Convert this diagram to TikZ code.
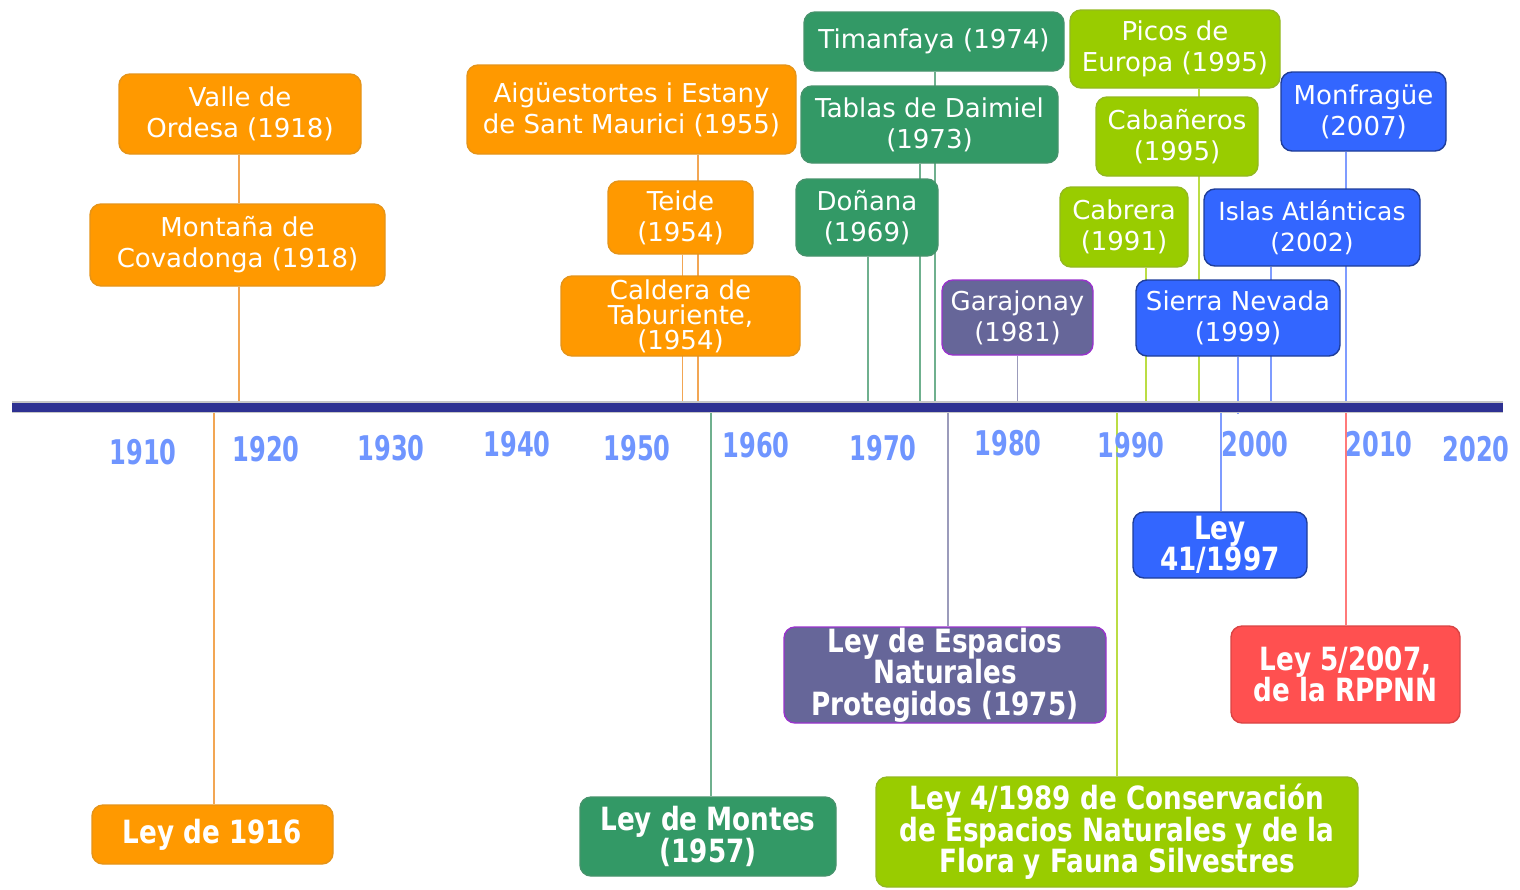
\documentclass[tikz,border=0pt]{standalone}
\usepackage{fontspec}
\setmainfont{DejaVu Sans}
\newfontfamily\lawfont{DejaVu Sans Bold}[FakeStretch=0.82]
\newfontfamily\yearfont{DejaVu Sans Bold}[FakeStretch=0.71]
\usetikzlibrary{calc}
\definecolor{cOr}{HTML}{FF9900}
\definecolor{cGr}{HTML}{339966}
\definecolor{cYg}{HTML}{99CC00}
\definecolor{cBl}{HTML}{3366FF}
\definecolor{cPu}{HTML}{666699}
\definecolor{cPuB}{HTML}{9933CC}
\definecolor{cRd}{HTML}{FF5050}
\definecolor{cNavy}{HTML}{2E3192}
\definecolor{cYear}{HTML}{6F95FF}
\definecolor{lOr}{HTML}{F2A654}
\definecolor{lGr}{HTML}{6FB08E}
\definecolor{lYg}{HTML}{BBDD44}
\definecolor{lBl}{HTML}{7F9CFF}
\definecolor{lPu}{HTML}{9B9BBB}
\definecolor{lRd}{HTML}{FF7A7A}
\pgfdeclarelayer{bg}
\pgfsetlayers{bg,main}
\tikzset{
  box/.style={rounded corners=11pt, line width=1.4pt, text=white, align=center,
    inner sep=0pt, font=\fontsize{26}{31}\selectfont},
  obox/.style={box, fill=cOr, draw=cOr!80!gray},
  gbox/.style={box, fill=cGr, draw=cGr!75!gray},
  ybox/.style={box, fill=cYg, draw=cYg!75!gray},
  bbox/.style={box, fill=cBl, draw=cBl!60!black},
  pbox/.style={box, fill=cPu, draw=cPuB},
  rbox/.style={box, fill=cRd, draw=cRd!85!black},
  law/.style={font=\lawfont\fontsize{32}{31.5}\selectfont},
  yr/.style={text=cYear, font=\yearfont\fontsize{34}{34}\selectfont, inner sep=0pt},
  conn/.style={line width=1.8pt},
}
\begin{document}
\begin{tikzpicture}[x=1pt,y=-1pt]
\useasboundingbox (0,0) rectangle (1520,889);
\coordinate (barL) at (12,407);
\coordinate (barR) at (1503,407);
\coordinate (barT) at (0,402);
\coordinate (barB) at (0,412);
% bar
\draw[line width=12pt, gray!45] (barL) -- (barR);
\draw[line width=9pt, cNavy] (barL) -- (barR);

% upper boxes
\node[obox, minimum width=242pt, minimum height=80pt] (ordesa) at (240,114) {Valle de\\Ordesa (1918)};
\node[obox, minimum width=295pt, minimum height=82pt] (covadonga) at (237.5,245) {Montaña de\\Covadonga (1918)};
\node[obox, minimum width=329pt, minimum height=89pt] (aig) at (631.5,109.5) {Aigüestortes i Estany\\de Sant Maurici (1955)};
\node[obox, minimum width=145pt, minimum height=73pt] (teide) at (680.5,217.5) {Teide\\(1954)};
\node[obox, minimum width=239pt, minimum height=80pt, font=\fontsize{26}{25}\selectfont] (caldera) at (680.5,316) {Caldera de\\Taburiente,\\(1954)};
\node[gbox, minimum width=260pt, minimum height=59pt] (timanfaya) at (934,41.5) {Timanfaya (1974)};
\node[gbox, minimum width=257pt, minimum height=77pt] (tablas) at (929.5,124.5) {Tablas de Daimiel\\(1973)};
\node[gbox, minimum width=142pt, minimum height=77pt] (donana) at (867,217.5) {Doñana\\(1969)};
\node[pbox, minimum width=151pt, minimum height=75pt] (garajonay) at (1017.5,317.5) {Garajonay\\(1981)};
\node[ybox, minimum width=210pt, minimum height=78pt] (picos) at (1175,49) {Picos de\\Europa (1995)};
\node[ybox, minimum width=162pt, minimum height=79pt] (cabaneros) at (1177,136.5) {Cabañeros\\(1995)};
\node[ybox, minimum width=128pt, minimum height=80pt] (cabrera) at (1124,227) {Cabrera\\(1991)};
\node[bbox, minimum width=165pt, minimum height=79pt] (monfrague) at (1363.5,111.5) {Monfragüe\\(2007)};
\node[bbox, minimum width=216pt, minimum height=77pt, font=\fontsize{25}{31}\selectfont] (islas) at (1312,227.5) {Islas Atlánticas\\(2002)};
\node[bbox, minimum width=204pt, minimum height=76pt] (sierra) at (1238,318) {Sierra Nevada\\(1999)};

% lower boxes (laws)
\node[obox, law, minimum width=241pt, minimum height=59pt] (ley1916) at (212.5,834.5) {Ley de 1916};
\node[gbox, law, minimum width=256pt, minimum height=79pt] (montes) at (708,836.5) {Ley de Montes\\(1957)};
\node[pbox, law, minimum width=322pt, minimum height=96pt] (lenp) at (945,675) {Ley de Espacios\\Naturales\\Protegidos (1975)};
\node[ybox, law, minimum width=482pt, minimum height=110pt] (ley4) at (1117,832) {Ley 4/1989 de Conservación\\de Espacios Naturales y de la\\Flora y Fauna Silvestres};
\node[bbox, law, minimum width=174pt, minimum height=66pt] (ley41) at (1220,545) {Ley\\41/1997};
\node[rbox, law, minimum width=229pt, minimum height=97pt] (ley5) at (1345.5,674.5) {Ley 5/2007,\\de la RPPNN};

% year labels
\node[yr] (y1910) at (143,452) {1910};
\node[yr] (y1920) at (266,449) {1920};
\node[yr] (y1930) at (391,448) {1930};
\node[yr] (y1940) at (517,444) {1940};
\node[yr] (y1950) at (637,448) {1950};
\node[yr] (y1960) at (756,445) {1960};
\node[yr] (y1970) at (883,448) {1970};
\node[yr] (y1980) at (1008,443) {1980};
\node[yr] (y1990) at (1131,445) {1990};
\node[yr] (y2000) at (1255,444) {2000};
\node[yr] (y2010) at (1379,444) {2010};
\node[yr] (y2020) at (1476,449) {2020};

\begin{pgfonlayer}{bg}
% upper connectors
\draw[conn, lOr] ($(ordesa.south)+(-1,0)$) -- ($(covadonga.north)+(1.5,0)$);
\draw[conn, lOr] ($(covadonga.south)+(1.5,0)$) -- ($(covadonga.south |- barT)+(1.5,0)$);
\draw[conn, lOr] ($(aig.south)+(66.5,0)$) -- ($(aig.south |- barT)+(66.5,0)$);
\draw[conn, lOr] ($(teide.south)+(2,0)$) -- ($(teide.south |- barT)+(2,0)$);
\draw[conn, lOr] ($(caldera.south)+(2,0)$) -- ($(caldera.south |- barT)+(2,0)$);
\draw[conn, lGr] ($(timanfaya.south)+(1,0)$) -- ($(timanfaya.south |- barT)+(1,0)$);
\draw[conn, lGr] ($(tablas.south)+(-9.5,0)$) -- ($(tablas.south |- barT)+(-9.5,0)$);
\draw[conn, lGr] ($(donana.south)+(1,0)$) -- ($(donana.south |- barT)+(1,0)$);
\draw[conn, lPu] (garajonay.south) -- (garajonay.south |- barT);
\draw[conn, lYg] ($(picos.south)+(24,0)$) -- ($(picos.south |- barT)+(24,0)$);
\draw[conn, lYg] ($(cabaneros.south)+(22,0)$) -- ($(cabaneros.south |- barT)+(22,0)$);
\draw[conn, lYg] ($(cabrera.south)+(22,0)$) -- ($(cabrera.south |- barT)+(22,0)$);
\draw[conn, lBl] ($(monfrague.south)+(-17.5,0)$) -- ($(monfrague.south |- barT)+(-17.5,0)$);
\draw[conn, lBl] ($(islas.south)+(-41,0)$) -- ($(islas.south |- barT)+(-41,0)$);
\draw[conn, lBl] (sierra.south) -- ($(sierra.south |- barB)+(0,2)$);
% lower connectors
\draw[conn, lOr] ($(ley1916.north)+(1.5,0)$) -- ($(ley1916.north |- barB)+(1.5,0)$);
\draw[conn, lGr] ($(montes.north)+(3,0)$) -- ($(montes.north |- barB)+(3,0)$);
\draw[conn, lPu] ($(lenp.north)+(3,0)$) -- ($(lenp.north |- barB)+(3,0)$);
\draw[conn, lYg] (ley4.north) -- (ley4.north |- barB);
\draw[conn, lBl] ($(ley41.north)+(1,0)$) -- ($(ley41.north |- barB)+(1,0)$);
\draw[conn, lRd] ($(ley5.north)+(0.5,0)$) -- ($(ley5.north |- barB)+(0.5,0)$);
\end{pgfonlayer}
\end{tikzpicture}
\end{document}
